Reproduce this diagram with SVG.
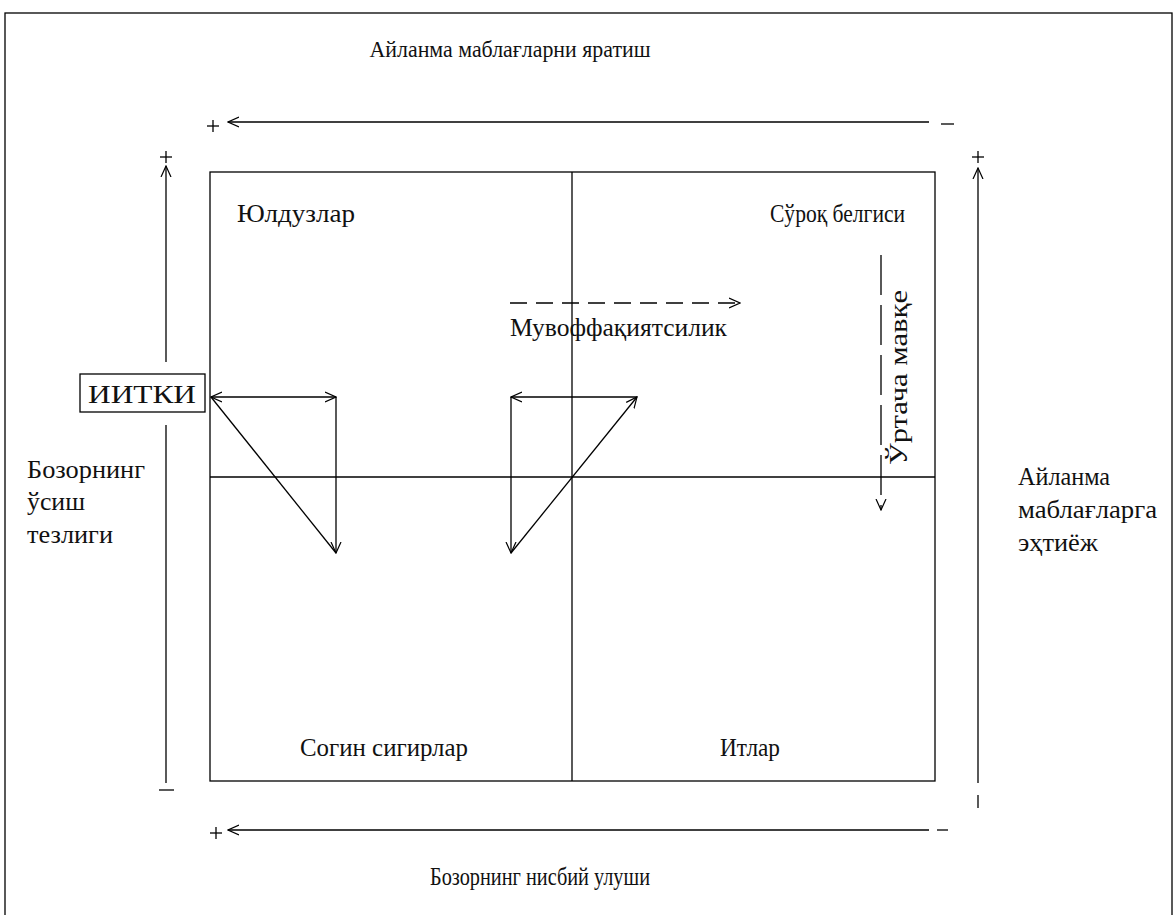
<svg xmlns="http://www.w3.org/2000/svg" width="1176" height="915" viewBox="0 0 1176 915">
<style>
.ln{stroke:#000;stroke-width:1.3;fill:none}
.t{font-family:"Liberation Serif","Times New Roman",serif;font-size:25px;fill:#111}
.h{font-family:"Liberation Serif","Times New Roman",serif;font-size:23px;fill:#111}
</style>
<defs>
<marker id="ar" viewBox="0 0 12 12" refX="11" refY="6" markerWidth="12" markerHeight="12" markerUnits="userSpaceOnUse" orient="auto-start-reverse">
<path d="M0,1 L11,6 L0,11" fill="none" stroke="#000" stroke-width="1.2"/>
</marker>
</defs>
<rect x="5" y="13" width="1167" height="910" fill="#fff" stroke="#000" stroke-width="1.3"/>
<g id="axes">
<line class="ln" x1="929" y1="122" x2="228" y2="122" marker-end="url(#ar)"/>
<line class="ln" x1="929" y1="830" x2="228" y2="830" marker-end="url(#ar)"/>
<line class="ln" x1="166" y1="783" x2="166" y2="425"/>
<line class="ln" x1="166" y1="362" x2="166" y2="166" marker-end="url(#ar)"/>
<line class="ln" x1="978" y1="783" x2="978" y2="168" marker-end="url(#ar)"/>
<line class="ln" x1="937" y1="830" x2="948" y2="830"/>
<line class="ln" x1="978" y1="795" x2="978" y2="808"/>
</g>
<g id="signs" class="ln">
<line x1="207" y1="126" x2="219" y2="126"/><line x1="213" y1="120" x2="213" y2="132"/>
<line x1="941" y1="124" x2="954" y2="124"/>
<line x1="210" y1="833" x2="222" y2="833"/><line x1="216" y1="827" x2="216" y2="839"/>
<line x1="160" y1="157" x2="172" y2="157"/><line x1="166" y1="151" x2="166" y2="163"/>
<line x1="972" y1="157" x2="984" y2="157"/><line x1="978" y1="151" x2="978" y2="163"/>
<line x1="159" y1="790" x2="174" y2="790"/>
</g>
<g id="matrix">
<rect class="ln" x="210" y="172" width="725" height="609"/>
<line class="ln" x1="572" y1="172" x2="572" y2="781"/>
<line class="ln" x1="210" y1="477" x2="935" y2="477"/>
</g>
<g id="ИИТКИ">
<rect class="ln" x="80" y="374" width="125" height="38"/>
<text class="t" x="142" y="403" text-anchor="middle" textLength="108" lengthAdjust="spacingAndGlyphs">ИИТКИ</text>
</g>
<g id="connectors">
<line class="ln" x1="211" y1="397" x2="336" y2="397" marker-start="url(#ar)" marker-end="url(#ar)"/>
<line class="ln" x1="336" y1="397" x2="336" y2="553" marker-end="url(#ar)"/>
<line class="ln" x1="211" y1="397" x2="336" y2="553"/>
<line class="ln" x1="637" y1="397" x2="511" y2="397" marker-end="url(#ar)"/>
<line class="ln" x1="511" y1="397" x2="511" y2="553" marker-end="url(#ar)"/>
<line class="ln" x1="511" y1="553" x2="637" y2="397" marker-end="url(#ar)"/>
<line class="ln" x1="510" y1="303" x2="740" y2="303" stroke-dasharray="17,9" marker-end="url(#ar)"/>
<line class="ln" x1="881" y1="255" x2="881" y2="510" stroke-dasharray="40,10" marker-end="url(#ar)"/>
</g>
<g id="labels">
<text class="h" x="510" y="57" text-anchor="middle" textLength="281" lengthAdjust="spacingAndGlyphs">Айланма маблағларни яратиш</text>
<text class="t" x="540" y="885" text-anchor="middle" textLength="220" lengthAdjust="spacingAndGlyphs">Бозорнинг нисбий улуши</text>
<text class="t" x="237" y="222" textLength="118" lengthAdjust="spacingAndGlyphs">Юлдузлар</text>
<text class="t" x="770" y="222" textLength="135" lengthAdjust="spacingAndGlyphs">Сўроқ белгиси</text>
<text class="t" x="300" y="756" textLength="168" lengthAdjust="spacingAndGlyphs">Согин сигирлар</text>
<text class="t" x="720" y="756" textLength="60" lengthAdjust="spacingAndGlyphs">Итлар</text>
<text class="t" x="510" y="336" textLength="217" lengthAdjust="spacingAndGlyphs">Мувоффақиятсилик</text>
<text class="t" transform="translate(907,465) rotate(-90)" textLength="175" lengthAdjust="spacingAndGlyphs">Ўртача мавқе</text>
<text class="t" x="27" y="478" textLength="118" lengthAdjust="spacingAndGlyphs">Бозорнинг</text>
<text class="t" x="27" y="510" textLength="58" lengthAdjust="spacingAndGlyphs">ўсиш</text>
<text class="t" x="27" y="543" textLength="86" lengthAdjust="spacingAndGlyphs">тезлиги</text>
<text class="t" x="1018" y="485" textLength="92" lengthAdjust="spacingAndGlyphs">Айланма</text>
<text class="t" x="1018" y="518" textLength="139" lengthAdjust="spacingAndGlyphs">маблағларга</text>
<text class="t" x="1018" y="551" textLength="80" lengthAdjust="spacingAndGlyphs">эҳтиёж</text>
</g>
</svg>
